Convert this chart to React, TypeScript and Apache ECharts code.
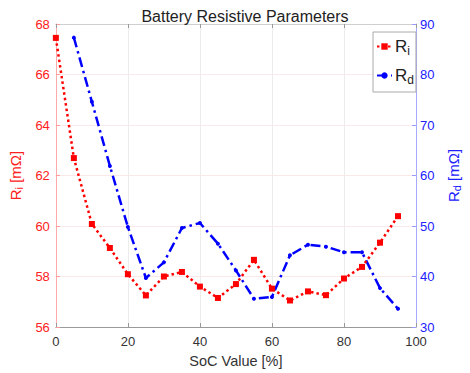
import React, { useEffect, useRef } from "react";
import * as echarts from "echarts";

const socRi = [0, 5, 10, 15, 20, 25, 30, 35, 40, 45, 50, 55, 60, 65, 70, 75, 80, 85, 90, 95];
const riValues = [67.45, 62.69, 60.08, 59.13, 58.09, 57.25, 58.0, 58.18, 57.6, 57.15, 57.7, 58.66, 57.52, 57.05, 57.41, 57.26, 57.92, 58.38, 59.34, 60.39];
const socRd = [5, 10, 15, 20, 25, 30, 35, 40, 45, 50, 55, 60, 65, 70, 75, 80, 85, 90, 95];
const rdValues = [87.3, 74.6, 61.9, 49.8, 39.7, 42.8, 49.6, 50.6, 46.5, 41.2, 35.6, 35.96, 44.2, 46.3, 45.9, 44.8, 44.8, 37.7, 33.6];
const xTicks = { min: 0, max: 100, interval: 20 };
const leftTicks = { min: 56, max: 68, interval: 2 };
const rightTicks = { min: 30, max: 90, interval: 10 };

const FONT = "Liberation Sans, Arial, Helvetica, sans-serif";

export default function App() {
  const ref = useRef<HTMLDivElement>(null);
  useEffect(() => {
    if (!ref.current) return;
    const chart = echarts.init(ref.current, undefined, { renderer: "svg" });
    const subRich = (color: string) => ({
      r: { fontSize: 15, color, fontFamily: FONT },
      s: { fontSize: 11, color, fontFamily: FONT, padding: [7, 0, 0, 0] },
    });
    chart.setOption({
      animation: false,
      backgroundColor: "#ffffff",
      textStyle: { fontFamily: FONT },
      title: {
        text: "Battery Resistive Parameters",
        left: 240,
        textAlign: "center",
        top: 3,
        textStyle: { fontSize: 16, fontWeight: "normal", color: "#222", fontFamily: FONT },
      },
      legend: {
        orient: "vertical",
        left: 373,
        top: 32,
        itemWidth: 15,
        itemHeight: 8,
        itemGap: 10,
        padding: [6, 2, 6, 3],
        borderColor: "#aaaaaa",
        borderWidth: 1,
        backgroundColor: "#ffffff",
        data: ["Ri", "Rd"],
        formatter: (name: string) => `{r|R}{s|${name.slice(1)}}`,
        textStyle: {
          fontSize: 16,
          color: "#222",
          padding: [0, 0, 0, -2],
          rich: {
            r: { fontSize: 17, color: "#222", fontFamily: FONT },
            s: { fontSize: 12, color: "#222", fontFamily: FONT, padding: [9, 0, 0, 0] },
          },
        },
      },
      grid: { left: 54, right: 44, top: 24, bottom: 42, containLabel: false },
      xAxis: [
        {
          type: "value",
          ...xTicks,
          name: "SoC Value [%]",
          nameLocation: "middle",
          nameGap: 26,
          nameTextStyle: { fontSize: 14.5, color: "#333", fontFamily: FONT },
          axisLine: { show: true, onZero: false, lineStyle: { color: "#9a9a9a", width: 1 } },
          axisTick: { show: true, inside: true, length: 4, lineStyle: { color: "#9a9a9a" } },
          axisLabel: { fontSize: 13, color: "#333", margin: 8, fontFamily: FONT },
          splitLine: { show: true, lineStyle: { color: "#ececec", width: 1 } },
        },
        {
          type: "value",
          position: "top",
          ...xTicks,
          axisLine: { show: true, onZero: false, lineStyle: { color: "#cfcfcf", width: 1 } },
          axisTick: { show: true, inside: true, length: 4, lineStyle: { color: "#9a9a9a" } },
          axisLabel: { show: false },
          splitLine: { show: false },
        },
      ],
      yAxis: [
        {
          type: "value",
          position: "left",
          ...leftTicks,
          name: "{r|R}{s|i}{r| [mΩ]}",
          nameLocation: "middle",
          nameGap: 31,
          nameRotate: 90,
          nameTextStyle: { color: "#ff2020", rich: subRich("#ff2020") },
          axisLine: { show: true, onZero: false, lineStyle: { color: "#ffaaaa", width: 1 } },
          axisTick: { show: true, inside: true, length: 4, lineStyle: { color: "#ff9a9a" } },
          axisLabel: { fontSize: 13, color: "#ff2020", margin: 6, fontFamily: FONT },
          splitLine: { show: true, lineStyle: { color: "#fbe8e8", width: 1 } },
        },
        {
          type: "value",
          position: "right",
          ...rightTicks,
          name: "{r|R}{s|d}{r| [mΩ]}",
          nameLocation: "middle",
          nameGap: 28,
          nameRotate: 90,
          nameTextStyle: { color: "#2020ff", rich: subRich("#2020ff") },
          axisLine: { show: true, onZero: false, lineStyle: { color: "#a8a8ff", width: 1 } },
          axisTick: { show: true, inside: true, length: 4, lineStyle: { color: "#9a9aff" } },
          axisLabel: { fontSize: 13, color: "#2020ff", margin: 4, fontFamily: FONT },
          splitLine: { show: false },
        },
      ],
      series: [
        {
          name: "Ri",
          type: "line",
          yAxisIndex: 0,
          data: socRi.map((x, i) => [x, riValues[i]]),
          symbol: "rect",
          symbolSize: 6,
          itemStyle: { color: "#ff0000" },
          lineStyle: { color: "#ff0000", width: 2.5, type: [2.5, 3] },
          z: 3,
        },
        {
          name: "Rd",
          type: "line",
          yAxisIndex: 1,
          data: socRd.map((x, i) => [x, rdValues[i]]),
          symbol: "circle",
          symbolSize: 4,
          itemStyle: { color: "#0000ff" },
          lineStyle: { color: "#0000ff", width: 2.5, type: [10, 4, 2.5, 4] },
          z: 2,
        },
      ],
    });
    return () => chart.dispose();
  }, []);
  return (
    <div
      ref={ref}
      style={{ position: "fixed", left: 0, top: 0, width: 470, height: 373, background: "#fff" }}
    />
  );
}
